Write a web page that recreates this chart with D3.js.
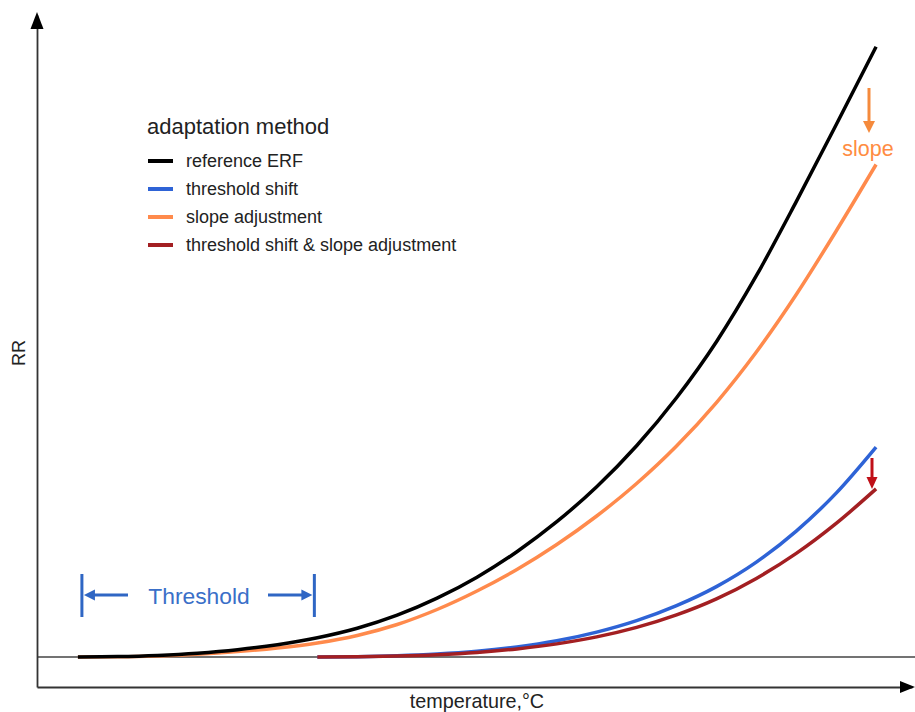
<!DOCTYPE html>
<html><head><meta charset="utf-8">
<script src="https://cdn.jsdelivr.net/npm/d3@7"></script>
<style>body{margin:0;background:#fff}svg{display:block;font-family:"Liberation Sans",Arial,sans-serif}</style>
</head><body><svg id="c" width="915" height="712"></svg>
<script>
// ---- data ----
const temps = [0,2,4,6,8,10,12,14,16,18,20,22,24,26,28,30,32,34,36,38,40];
const referenceERF = [1.000,1.0013,1.0053,1.0127,1.0243,1.041,1.0643,1.096,1.1393,1.196,1.266,1.351,1.451,1.5677,1.7043,1.8643,2.051,2.271,2.5177,2.7743,3.0343];
const slopeAdj = [1.000,1.0007,1.0037,1.0093,1.018,1.030,1.0467,1.0717,1.1083,1.1583,1.220,1.2917,1.375,1.470,1.5783,1.7033,1.8483,2.0167,2.2083,2.420,2.6417];
const shiftTemps = [12,14,16,18,20,22,24,26,28,30,32,34,36,38,40];
const thresholdShift = [1.000,1.001,1.004,1.0097,1.019,1.0333,1.054,1.083,1.1213,1.1713,1.2347,1.3163,1.4197,1.5463,1.6997];
const shiftSlope = [1.000,1.0007,1.003,1.0077,1.0153,1.027,1.0437,1.067,1.0987,1.1403,1.1937,1.262,1.3453,1.4453,1.5603];
const legendLabels = ["reference ERF","threshold shift","slope adjustment","threshold shift & slope adjustment"];
const legendTitle = "adaptation method";
const thresholdRange = [0,12];

const colors = ["#000000","#2e63d6","#ff8a4c","#a31f22"];

const svg = d3.select("#c");
const x = d3.scaleLinear().domain([-2.05,41.8]).range([37,912]);
const y = d3.scaleLinear().domain([0.9,3.14]).range([687,15]);
const axisColor = "#333";

// baseline at RR = 1
svg.append("line").attr("x1",x(-2.05)).attr("x2",915).attr("y1",y(1)).attr("y2",y(1))
  .attr("stroke","#444").attr("stroke-width",1.5);

// axes via d3 axis generators (no ticks)
const xAxis = d3.axisBottom(x).tickValues([]).tickSizeOuter(0);
const yAxis = d3.axisLeft(y).tickValues([]).tickSizeOuter(0);
svg.append("g").attr("transform",`translate(0,${y(0.9)})`).call(xAxis)
  .select(".domain").attr("stroke",axisColor).attr("stroke-width",1.8);
svg.append("g").attr("transform",`translate(${x(-2.05)},0)`).call(yAxis)
  .select(".domain").attr("stroke",axisColor).attr("stroke-width",1.8);
// arrowheads
svg.append("path").attr("d",`M${x(-2.05)},12 L${x(-2.05)-6.5},29 L${x(-2.05)+6.5},29 Z`).attr("fill","#000");
svg.append("path").attr("d",`M915,${y(0.9)} L900,${y(0.9)-6} L900,${y(0.9)+6} Z`).attr("fill","#000");

// axis labels
svg.append("text").attr("x",477).attr("y",708).attr("text-anchor","middle")
  .attr("font-size",19.8).attr("fill","#222").text("temperature,°C");
svg.append("text").attr("transform","translate(25,353) rotate(-90)").attr("text-anchor","middle")
  .attr("font-size",18).attr("fill","#222").text("RR");

// curves
const line = d3.line().x(d=>x(d[0])).y(d=>y(d[1])).curve(d3.curveMonotoneX);
const series = [
  {t:temps, v:slopeAdj, c:colors[2]},
  {t:temps, v:referenceERF, c:colors[0]},
  {t:shiftTemps, v:thresholdShift, c:colors[1]},
  {t:shiftTemps, v:shiftSlope, c:colors[3]}
];
series.forEach(s=>{
  svg.append("path").datum(s.t.map((t,i)=>[t,s.v[i]]))
    .attr("d",line).attr("fill","none").attr("stroke",s.c).attr("stroke-width",3.5);
});

// legend
const lg = svg.append("g");
lg.append("text").attr("x",147).attr("y",134).attr("font-size",22).attr("fill","#222").text(legendTitle);
legendLabels.forEach((l,i)=>{
  const yy = 161 + i*28;
  lg.append("line").attr("x1",148).attr("x2",173).attr("y1",yy).attr("y2",yy)
    .attr("stroke",colors[i]).attr("stroke-width",4);
  lg.append("text").attr("x",186).attr("y",yy+6).attr("font-size",18).attr("fill","#222").text(l);
});

// slope annotation
const orangeA = "#f58a3c";
svg.append("line").attr("x1",869).attr("x2",869).attr("y1",88).attr("y2",122).attr("stroke",orangeA).attr("stroke-width",3);
svg.append("path").attr("d","M863,121 L875,121 L869,133 Z").attr("fill",orangeA);
svg.append("text").attr("x",868).attr("y",156).attr("text-anchor","middle").attr("font-size",21.5).attr("fill","#ff8c42").text("slope");

// red arrow
const redA = "#c01018";
svg.append("line").attr("x1",872).attr("x2",872).attr("y1",458).attr("y2",478).attr("stroke",redA).attr("stroke-width",3);
svg.append("path").attr("d","M866.5,477 L877.5,477 L872,489 Z").attr("fill",redA);

// threshold annotation
const blueA = "#2f66c4";
const tl = x(thresholdRange[0])+4, tr = x(thresholdRange[1])-3;
[tl,tr].forEach(px=>svg.append("line").attr("x1",px).attr("x2",px).attr("y1",574).attr("y2",617).attr("stroke",blueA).attr("stroke-width",3));
svg.append("line").attr("x1",tl+8).attr("x2",128).attr("y1",595).attr("y2",595).attr("stroke",blueA).attr("stroke-width",3);
svg.append("path").attr("d",`M${tl+2},595 L${tl+13},589.5 L${tl+13},600.5 Z`).attr("fill",blueA);
svg.append("line").attr("x1",268).attr("x2",tr-8).attr("y1",595).attr("y2",595).attr("stroke",blueA).attr("stroke-width",3);
svg.append("path").attr("d",`M${tr-2},595 L${tr-13},589.5 L${tr-13},600.5 Z`).attr("fill",blueA);
svg.append("text").attr("x",199).attr("y",604).attr("text-anchor","middle").attr("font-size",22.8).attr("fill","#3a6fc8").text("Threshold");
</script></body></html>
